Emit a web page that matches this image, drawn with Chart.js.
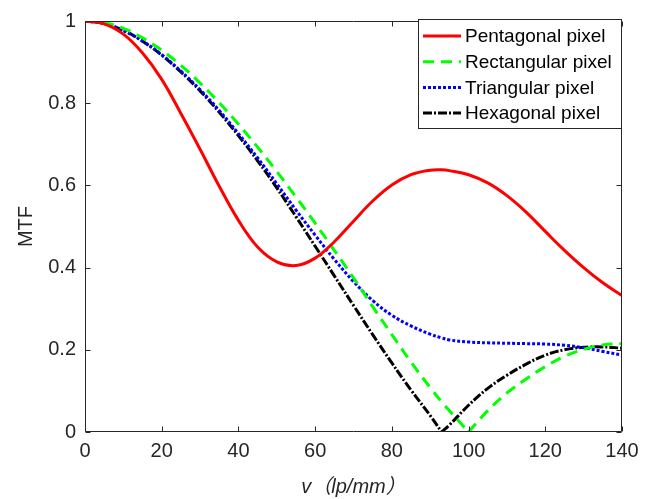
<!DOCTYPE html>
<html>
<head>
<meta charset="utf-8">
<script src="https://cdn.jsdelivr.net/npm/chart.js@4/dist/chart.umd.min.js"></script>
<style>
  html, body { margin: 0; padding: 0; background: #fff; }
  #wrap { width: 654px; height: 499px; }
</style>
</head>
<body>
<div id="wrap"><canvas id="myChart" width="654" height="499"></canvas></div>
<script>
// spatial frequency v (lp/mm)
const freq = [0, 5, 10, 15, 20, 25, 30, 35, 40, 45, 50, 55, 60, 65, 70, 75, 80, 85, 90, 93, 95, 100, 105, 110, 115, 120, 125, 130, 135, 140];

const pentagonal = [1.0, 0.993, 0.968, 0.922, 0.858, 0.775, 0.688, 0.598, 0.515, 0.45, 0.414, 0.405, 0.423, 0.463, 0.513, 0.562, 0.601, 0.626, 0.637, 0.638, 0.636, 0.626, 0.606, 0.575, 0.535, 0.488, 0.442, 0.4, 0.363, 0.332];
const rectangular = [1.0, 0.996, 0.982, 0.959, 0.929, 0.892, 0.849, 0.801, 0.749, 0.693, 0.634, 0.572, 0.508, 0.442, 0.375, 0.305, 0.237, 0.17, 0.108, 0.073, 0.052, 0.0, 0.052, 0.095, 0.129, 0.159, 0.184, 0.201, 0.212, 0.215];
const triangular = [1.0, 0.994, 0.977, 0.951, 0.918, 0.878, 0.833, 0.782, 0.726, 0.667, 0.604, 0.54, 0.479, 0.42, 0.366, 0.32, 0.284, 0.258, 0.238, 0.229, 0.224, 0.219, 0.217, 0.216, 0.215, 0.214, 0.211, 0.205, 0.196, 0.187];
const hexagonal = [1.0, 0.994, 0.977, 0.951, 0.917, 0.876, 0.83, 0.778, 0.721, 0.66, 0.594, 0.524, 0.452, 0.38, 0.308, 0.237, 0.168, 0.102, 0.04, 0.0, 0.017, 0.065, 0.106, 0.138, 0.165, 0.187, 0.2, 0.206, 0.207, 0.204];

const xTicks = [0, 20, 40, 60, 80, 100, 120, 140];
const yTicks = [0, 0.2, 0.4, 0.6, 0.8, 1];

const axisColor = '#262626';
const fontFamily = "'Liberation Sans', Arial, 'Noto Sans CJK SC', sans-serif";

const series = [
  { label: 'Pentagonal pixel', data: pentagonal, color: '#ff0000', dash: [] },
  { label: 'Rectangular pixel', data: rectangular, color: '#00ff00', dash: [11, 7] },
  { label: 'Triangular pixel', data: triangular, color: '#0000ff', dash: [3, 2] },
  { label: 'Hexagonal pixel', data: hexagonal, color: '#000000', dash: [9, 2, 2, 2] }
];

// split a curve at an inner zero so the V bottom stays sharp
function pieces(ys) {
  const pts = freq.map(function(v, i) { return { x: v, y: ys[i] }; });
  const k = ys.indexOf(0);
  if (k > 0 && k < ys.length - 1) {
    return [pts.slice(0, k + 1), pts.slice(k)];
  }
  return [pts];
}

// MATLAB-like box with inward ticks, plus the legend in the upper right
const boxPlugin = {
  id: 'boxPlugin',
  afterDraw: function(chart) {
    const ctx = chart.ctx;
    const a = chart.chartArea;
    const xs = chart.scales.x, ys = chart.scales.y;
    ctx.save();
    ctx.strokeStyle = axisColor;
    ctx.lineWidth = 1;
    ctx.setLineDash([]);
    const L = Math.round(a.left) + 0.5, R = Math.round(a.right) - 0.5;
    const T = Math.round(a.top) + 0.5, B = Math.round(a.bottom) - 0.5;
    ctx.beginPath();
    ctx.rect(L, T, R - L, B - T);
    xTicks.forEach(function(v) {
      const px = Math.round(xs.getPixelForValue(v)) + 0.5;
      ctx.moveTo(px, B); ctx.lineTo(px, B - 5);
      ctx.moveTo(px, T); ctx.lineTo(px, T + 5);
    });
    yTicks.forEach(function(v) {
      const py = Math.round(ys.getPixelForValue(v)) + 0.5;
      ctx.moveTo(L, py); ctx.lineTo(L + 5, py);
      ctx.moveTo(R, py); ctx.lineTo(R - 5, py);
    });
    ctx.stroke();

    // legend
    const lx = 418.5, ly = 19.5, lw = 203, lh = 109;
    ctx.fillStyle = '#ffffff';
    ctx.fillRect(lx, ly, lw, lh);
    ctx.strokeRect(lx, ly, lw, lh);
    ctx.font = '19px ' + fontFamily;
    ctx.textBaseline = 'middle';
    ctx.textAlign = 'left';
    series.forEach(function(s, i) {
      const y = 36 + i * 25.7;
      ctx.strokeStyle = s.color;
      ctx.lineWidth = 3;
      ctx.setLineDash(s.dash);
      ctx.beginPath();
      ctx.moveTo(423, y); ctx.lineTo(461, y);
      ctx.stroke();
      ctx.fillStyle = '#000000';
      ctx.fillText(s.label, 465, y + 1);
    });
    ctx.restore();
  }
};

const datasets = [];
series.forEach(function(s) {
  pieces(s.data).forEach(function(pts) {
    datasets.push({
      label: s.label,
      data: pts,
      borderColor: s.color,
      backgroundColor: s.color,
      borderWidth: 3,
      borderDash: s.dash,
      pointRadius: 0,
      fill: false,
      tension: 0.4
    });
  });
});

const ctx = document.getElementById('myChart');
new Chart(ctx, {
  type: 'line',
  data: { datasets: datasets },
  options: {
    responsive: false,
    animation: false,
    layout: { padding: { top: 20, right: 32, left: 0, bottom: 0 } },
    plugins: {
      legend: { display: false },
      tooltip: { enabled: false }
    },
    scales: {
      x: {
        type: 'linear',
        min: 0, max: 140,
        afterFit: function(s) { s.height = 67; },
        afterBuildTicks: function(s) { s.ticks = xTicks.map(function(v) { return { value: v }; }); },
        grid: { display: false, drawTicks: false },
        border: { display: false },
        ticks: { color: axisColor, font: { size: 20, family: fontFamily }, padding: 7, maxRotation: 0 },
        title: {
          display: true,
          text: 'v（lp/mm）',
          color: axisColor,
          font: { size: 20, family: fontFamily, style: 'italic' },
          padding: { top: 0, bottom: 0 }
        }
      },
      y: {
        type: 'linear',
        min: 0, max: 1,
        afterFit: function(s) { s.width = 85; },
        afterBuildTicks: function(s) { s.ticks = yTicks.map(function(v) { return { value: v }; }); },
        grid: { display: false, drawTicks: false },
        border: { display: false },
        ticks: {
          color: axisColor, font: { size: 20, family: fontFamily }, padding: 9,
          callback: function(v) { return String(Math.round(v * 10) / 10); }
        },
        title: {
          display: true,
          text: 'MTF',
          color: axisColor,
          font: { size: 20, family: fontFamily },
          padding: { top: 14, bottom: 0 }
        }
      }
    }
  },
  plugins: [boxPlugin]
});
</script>
</body>
</html>
